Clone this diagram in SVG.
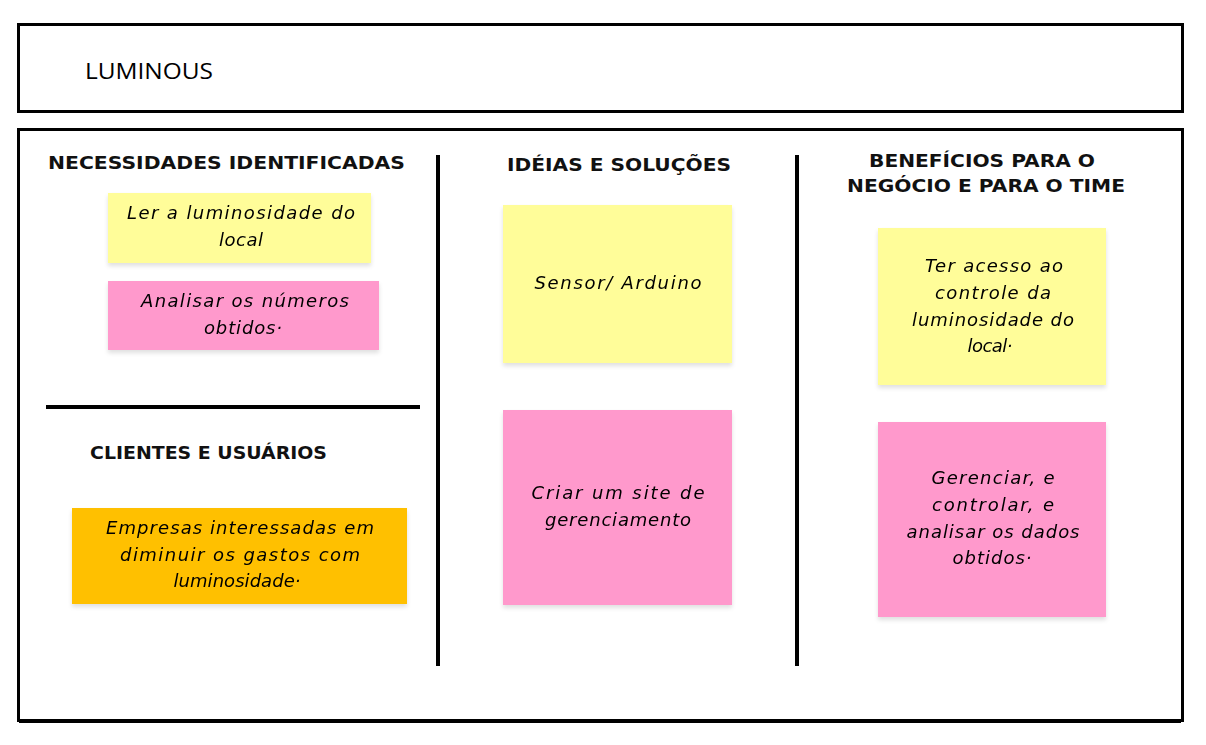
<svg xmlns="http://www.w3.org/2000/svg" width="1206" height="745" viewBox="0 0 1206 745">
<defs>
<filter id="sh" x="-5%" y="-5%" width="110%" height="120%">
<feDropShadow dx="0" dy="3" stdDeviation="2" flood-color="#000" flood-opacity="0.12"/>
</filter>
<style>
.frame{fill:#fff;stroke:#000;stroke-width:3}
.div{stroke:#000;stroke-width:4;fill:none}
.head{font-family:"DejaVu Sans",Verdana,sans-serif;font-weight:bold;font-size:18px;fill:#111}
.hand{font-family:"DejaVu Sans","Liberation Sans",sans-serif;font-style:italic;font-size:18px;fill:#000;text-anchor:middle}
.y{fill:#FFFD99}
.p{fill:#FF99CC}
.o{fill:#FFC000}
</style>
</defs>
<rect width="1206" height="745" fill="#fff"/>
<g id="title">
<rect class="frame" x="18.5" y="24.5" width="1164" height="87"/>
<text x="85" y="79" font-family="Open Sans,Liberation Sans,sans-serif" font-size="21" fill="#000" textLength="128" lengthAdjust="spacingAndGlyphs">LUMINOUS</text>
</g>
<g id="board">
<rect class="frame" x="18.5" y="129.5" width="1164" height="591"/>
<line x1="1181" y1="721" x2="19" y2="721" stroke="#000" stroke-width="4"/>
</g>
<g id="connectors">
<line class="div" x1="438" y1="155" x2="438" y2="666"/>
<line class="div" x1="797" y1="155" x2="797" y2="666"/>
<line class="div" x1="46" y1="407" x2="420" y2="407"/>
</g>
<g id="heading-necessidades">
<text class="head" x="48" y="169" textLength="357" lengthAdjust="spacingAndGlyphs">NECESSIDADES IDENTIFICADAS</text>
</g>
<g id="heading-ideias">
<text class="head" x="507" y="171" textLength="224" lengthAdjust="spacingAndGlyphs">IDÉIAS E SOLUÇÕES</text>
</g>
<g id="heading-beneficios">
<text class="head" x="869" y="167" textLength="226" lengthAdjust="spacingAndGlyphs">BENEFÍCIOS PARA O</text>
<text class="head" x="847" y="192" textLength="278" lengthAdjust="spacingAndGlyphs">NEGÓCIO E PARA O TIME</text>
</g>
<g id="heading-clientes">
<text class="head" x="90" y="459" textLength="237" lengthAdjust="spacingAndGlyphs">CLIENTES E USUÁRIOS</text>
</g>
<g id="note-ler" filter="url(#sh)">
<rect class="y" x="108" y="193" width="263" height="70"/>
<text class="hand" x="241" y="219" textLength="228" lengthAdjust="spacing">Ler a luminosidade do</text>
<text class="hand" x="241" y="246" textLength="44" lengthAdjust="spacing">local</text>
</g>
<g id="note-analisar" filter="url(#sh)">
<rect class="p" x="108" y="281" width="271" height="69"/>
<text class="hand" x="245" y="307" textLength="208" lengthAdjust="spacing">Analisar os números</text>
<text class="hand" x="243" y="334" textLength="78" lengthAdjust="spacing">obtidos·</text>
</g>
<g id="note-empresas" filter="url(#sh)">
<rect class="o" x="72" y="508" width="335" height="96"/>
<text class="hand" x="240" y="534" textLength="268" lengthAdjust="spacing">Empresas interessadas em</text>
<text class="hand" x="240" y="561" textLength="240" lengthAdjust="spacing">diminuir os gastos com</text>
<text class="hand" x="237" y="587" textLength="127" lengthAdjust="spacing">luminosidade·</text>
</g>
<g id="note-sensor" filter="url(#sh)">
<rect class="y" x="503" y="205" width="229" height="158"/>
<text class="hand" x="618" y="289" textLength="167" lengthAdjust="spacing">Sensor/ Arduino</text>
</g>
<g id="note-site" filter="url(#sh)">
<rect class="p" x="503" y="410" width="229" height="195"/>
<text class="hand" x="618" y="499" textLength="173" lengthAdjust="spacing">Criar um site de</text>
<text class="hand" x="618" y="526" textLength="146" lengthAdjust="spacing">gerenciamento</text>
</g>
<g id="note-acesso" filter="url(#sh)">
<rect class="y" x="878" y="228" width="228" height="157"/>
<text class="hand" x="994" y="272" textLength="138" lengthAdjust="spacing">Ter acesso ao</text>
<text class="hand" x="993" y="299" textLength="116" lengthAdjust="spacing">controle da</text>
<text class="hand" x="993" y="326" textLength="162" lengthAdjust="spacing">luminosidade do</text>
<text class="hand" x="990" y="352" textLength="45" lengthAdjust="spacing">local·</text>
</g>
<g id="note-gerenciar" filter="url(#sh)">
<rect class="p" x="878" y="422" width="228" height="195"/>
<text class="hand" x="993" y="484" textLength="123" lengthAdjust="spacing">Gerenciar, e</text>
<text class="hand" x="993" y="511" textLength="122" lengthAdjust="spacing">controlar, e</text>
<text class="hand" x="993" y="538" textLength="173" lengthAdjust="spacing">analisar os dados</text>
<text class="hand" x="992" y="564" textLength="79" lengthAdjust="spacing">obtidos·</text>
</g>
</svg>
